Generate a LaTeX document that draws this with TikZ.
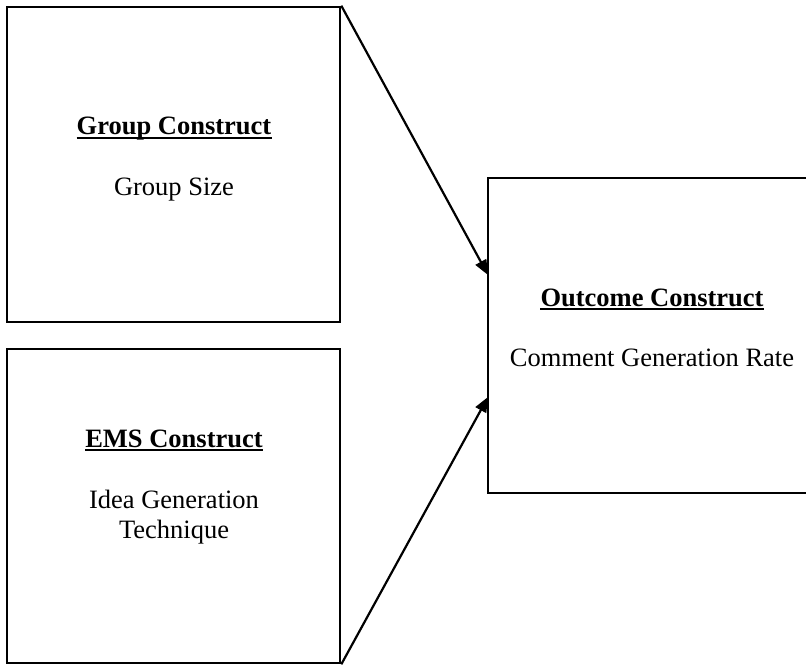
\documentclass[tikz,border=0pt]{standalone}
\usepackage{fontspec}
\setmainfont{Liberation Serif}
\usetikzlibrary{arrows.meta}
\begin{document}
\begin{tikzpicture}[x=1pt,y=-1pt,
  box/.style={draw=black,line width=2.6pt,rectangle,inner sep=0pt},
  title/.style={anchor=base,font=\fontsize{26.5}{30}\selectfont\bfseries,inner sep=0pt},
  body/.style={anchor=base,font=\fontsize{26.5}{30}\selectfont,inner sep=0pt},
  titleline/.style={line width=1.7pt},
  link/.style={line width=2.2pt,-{Triangle[length=15pt,width=12pt]}}]
  \useasboundingbox (0,0) rectangle (806,666);
  % construct boxes
  \node[box,minimum width=333pt,minimum height=315pt] (grp) at (173.5,164.5) {};
  \node[box,minimum width=333pt,minimum height=314pt] (ems) at (173.5,506) {};
  \node[box,minimum width=328pt,minimum height=315pt] (out) at (652,335.5) {};
  % box texts
  \node[title] (grpT) at (174,135) {Group Construct};
  \node[body] (grpB) at (174,195) {Group Size};
  \node[title] (emsT) at (174,447) {EMS Construct};
  \node[body] (emsB1) at (174,508) {Idea Generation};
  \node[body] (emsB2) at (174,538) {Technique};
  \node[title] (outT) at (652,306) {Outcome Construct};
  \node[body] (outB) at (652,366) {Comment Generation Rate};
  % underlined headings
  \foreach \t in {grpT,emsT,outT}
    \draw[titleline] ([yshift=-3pt]\t.base west) -- ([yshift=-3pt]\t.base east);
  % arrow targets on the outcome box
  \coordinate (in1) at (488,275);
  \coordinate (in2) at (488,397);
  \draw[link] (grp.north east) -- (in1);
  \draw[link] (ems.south east) -- (in2);
\end{tikzpicture}
\end{document}
